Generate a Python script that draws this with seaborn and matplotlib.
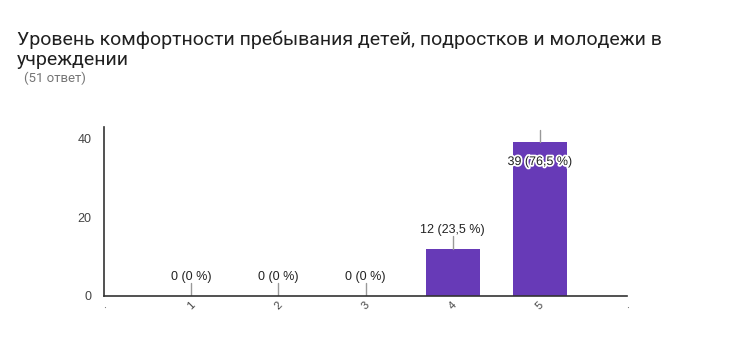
import matplotlib
matplotlib.use("Agg")
import matplotlib.pyplot as plt
import matplotlib.patheffects as pe
import seaborn as sns
import pandas as pd

categories = ["1", "2", "3", "4", "5"]
counts = [0, 0, 0, 12, 39]
total_responses = 51
title = "Уровень комфортности пребывания детей, подростков и молодежи в\nучреждении"
subtitle = "(51 ответ)"

sns.set_theme(style="white")
plt.rcParams["font.family"] = ["Roboto", "DejaVu Sans"]
label_font = ["Liberation Sans", "DejaVu Sans"]

df = pd.DataFrame({"category": categories, "count": counts})

fig = plt.figure(figsize=(7.42, 3.38), dpi=100)
ax = fig.add_axes([104 / 742, 1 - 296 / 338, 523 / 742, 169 / 338])

sns.barplot(data=df, x="category", y="count", order=categories,
            color="#673ab7", saturation=1, width=0.62, linewidth=0, ax=ax)

ymax = 42.8
ax.set_xlim(-1, 5)
ax.set_ylim(0, ymax)
ax.set_xticks(range(-1, 6))
ax.set_xticklabels(["."] + categories + ["."], rotation=45,
                   fontsize=8, color="#444444", family=label_font)
ax.set_yticks([0, 20, 40])
ax.tick_params(axis="y", labelsize=9, colors="#444444", pad=9, length=0)
ax.tick_params(axis="x", length=0, pad=3)
for lbl in ax.get_yticklabels():
    lbl.set_family(label_font)
ax.set_xlabel("")
ax.set_ylabel("")
for side in ["top", "right"]:
    ax.spines[side].set_visible(False)
for side in ["left", "bottom"]:
    ax.spines[side].set_color("#333333")
    ax.spines[side].set_linewidth(1.2)

px = ymax / 169  # data units per pixel on y
for i, v in enumerate(counts):
    pct = f"{v / total_responses * 100:.1f}".replace(".", ",")
    pct = pct[:-2] if pct.endswith(",0") else pct
    label = f"{v} ({pct} %)"
    if v + 25 * px > ymax:
        # not enough room above the bar: stem goes up, label sits inside
        ax.plot([i, i], [v, ymax - 3 * px], color="#999999", lw=1, clip_on=False)
        ax.text(i, v - 20 * px, label, ha="center", va="center", fontsize=9,
                color="#222222", family=label_font,
                path_effects=[pe.withStroke(linewidth=2.5, foreground="white")])
    else:
        ax.plot([i, i], [v, v + 13 * px], color="#999999", lw=1)
        ax.text(i, v + 19 * px, label, ha="center", va="center", fontsize=9,
                color="#222222", family=label_font)

fig.text(17 / 742, 1 - 65 / 338, title, fontsize=14, color="#212121",
         ha="left", va="baseline", linespacing=1.15)
fig.text(24 / 742, 1 - 82 / 338, subtitle, fontsize=9.5, color="#757575",
         ha="left", va="baseline")

fig.savefig("out.png", dpi=100)
